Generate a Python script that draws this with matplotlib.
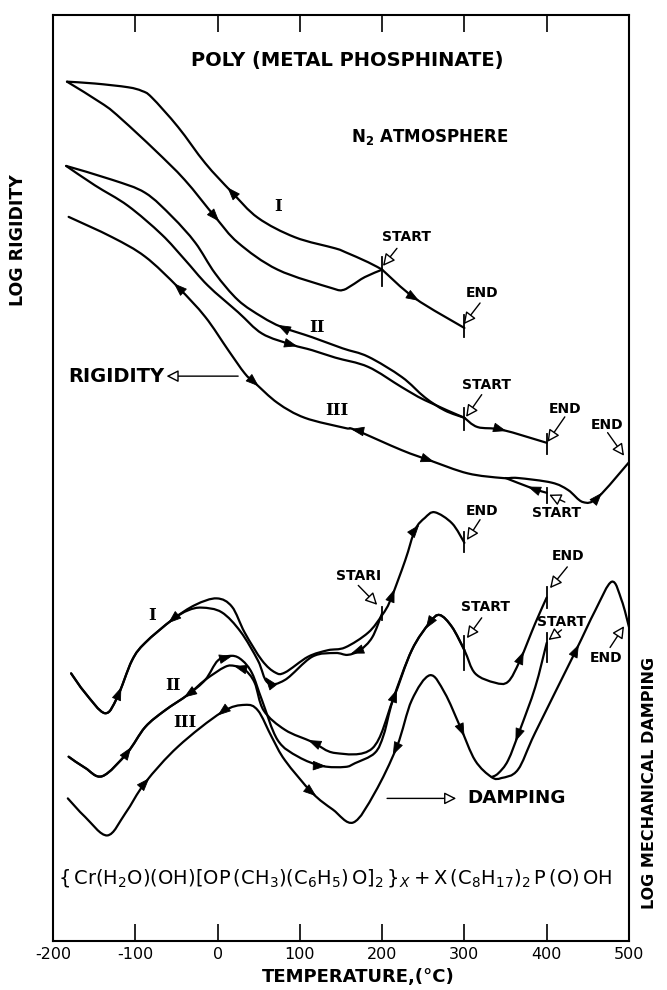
import numpy as np
import matplotlib
matplotlib.use("Agg")
import matplotlib.pyplot as plt
from matplotlib.path import Path
from matplotlib.patches import PathPatch

plt.rcParams['font.family'] = ['DejaVu Sans']
plt.rcParams['mathtext.fontset'] = 'dejavusans'
plt.rcParams['axes.unicode_minus'] = False

# ---- values: temperature (C) vs arbitrary log units ----
# rigidity, run I
rig1_cool_T = [-183, -149, -109, -92, -80, -48, -15, 17, 49, 94, 143, 155, 183, 200]
rig1_cool_Y = [92.8, 92.6, 92.2, 91.8, 91.1, 87.9, 84.0, 80.9, 78.1, 76.0, 74.8, 74.4, 73.3, 72.5]
rig1_heat_T = [-183, -138, -116, -76, -40, -3, 25, 73, 139, 152, 163, 179, 200]
rig1_heat_Y = [92.8, 90.3, 88.7, 85.4, 82.2, 78.2, 75.4, 72.5, 70.5, 70.3, 70.8, 71.7, 72.5]
rig1_end_T = [200, 240, 300]
rig1_end_Y = [72.5, 69.4, 66.2]
# rigidity, run II
rig2_cool_T = [-184, -128, -88, -55, -27, -3, 25, 54, 78, 115, 152, 183, 224, 252, 276, 300]
rig2_cool_Y = [83.7, 82.2, 80.8, 78.2, 75.4, 72.1, 69.2, 67.4, 66.3, 65.2, 64.0, 63.1, 60.9, 58.7, 57.3, 56.5]
rig2_heat_T = [-184, -149, -109, -68, -40, -12, 25, 54, 90, 115, 143, 183, 224, 252, 300]
rig2_heat_Y = [83.7, 81.6, 79.4, 76.3, 73.6, 70.8, 67.9, 65.6, 64.4, 63.8, 63.0, 62.0, 59.8, 58.4, 56.5]
rig2_end_T = [300, 316, 346, 400]
rig2_end_Y = [56.5, 55.5, 55.2, 53.8]
# rigidity, run III (heating and cooling coincide up to 400)
rig3_T = [-181, -128, -88, -48, -15, 13, 33, 45, 73, 106, 155, 167, 224, 258, 304, 346,
          365, 406, 426, 444, 462, 500]
rig3_Y = [78.2, 76.0, 73.9, 70.6, 67.4, 63.8, 61.3, 60.3, 58.1, 56.5, 55.4, 55.2, 53.0,
          51.9, 50.5, 50.0, 50.0, 49.5, 48.7, 47.4, 47.9, 51.7]
rig3_start_T = [350, 382, 400]
rig3_start_Y = [50.0, 48.9, 48.4]

# damping, run I
dmp1_heat_T = [-178, -161, -137, -122, -104, -88, -55, -27, -1, 17.5, 33, 54, 70, 82, 110,
               134, 155, 183, 200, 210, 228, 240, 252, 264, 285, 300]
dmp1_heat_Y = [28.9, 26.8, 24.6, 26.3, 30.3, 32.2, 34.7, 36.3, 37.0, 36.1, 33.3, 30.3, 29.0,
               29.0, 30.7, 31.4, 31.7, 33.3, 35.2, 36.8, 41.1, 44.4, 45.7, 46.3, 45.1, 43.0]
dmp1_cool_T = [-178, -161, -137, -122, -104, -88, -55, -36, -19, 5, 28, 49, 61, 82, 115,
               143, 158, 173, 188, 200]
dmp1_cool_Y = [28.9, 26.8, 24.6, 26.3, 30.3, 32.2, 34.7, 35.7, 36.0, 35.5, 33.4, 30.3, 27.9,
               28.2, 30.7, 31.1, 30.9, 31.4, 32.8, 35.4]
# damping, run II
dmp2_heat_T = [-181, -161, -140, -110, -88, -64, -36, -15, 0.5, 17.5, 30, 42, 54, 73, 98,
               127, 155, 167, 191, 202, 213, 236, 258, 270, 285, 300, 313, 337, 353, 367.5,
               386, 400]
dmp2_heat_Y = [19.9, 18.7, 17.8, 20.3, 23.1, 24.9, 26.6, 28.2, 30.3, 30.8, 30.3, 28.9, 26.0,
               21.7, 19.9, 18.9, 18.8, 19.2, 20.3, 22.3, 26.0, 31.4, 34.4, 35.2, 33.9, 31.4,
               28.9, 27.9, 28.0, 30.3, 34.3, 37.1]
dmp2_cool_T = [-181, -161, -140, -110, -88, -64, -36, -15, 9, 21, 33, 45, 56, 82, 115, 143,
               188, 213, 236, 258, 270, 285, 300]
dmp2_cool_Y = [19.9, 18.7, 17.8, 20.3, 23.1, 24.9, 26.6, 28.2, 29.6, 29.7, 29.3, 27.9, 24.9,
               22.8, 21.5, 20.3, 20.8, 26.0, 31.4, 34.4, 35.2, 33.9, 31.4]
# damping, run III
dmp3_T = [-182, -161, -134, -112, -88, -48, 5, 33, 49, 66, 82, 115, 140, 165, 191, 218, 236,
          258, 276, 295, 313, 333, 345, 365, 386, 434, 459, 479, 491, 500]
dmp3_Y = [15.4, 13.4, 11.4, 13.8, 17.1, 21.0, 24.7, 25.5, 24.9, 22.0, 19.5, 16.0, 14.2, 12.8,
          16.0, 21.0, 26.0, 28.7, 26.8, 23.1, 19.5, 17.7, 17.6, 18.5, 22.5, 31.1, 35.7, 38.8,
          36.8, 33.9]
dmp3_start_T = [333, 341, 353, 367.5, 386, 400]
dmp3_start_Y = [17.7, 18.1, 19.5, 22.8, 27.4, 32.2]

branches = {
    "rig1_cool": (rig1_cool_T, rig1_cool_Y), "rig1_heat": (rig1_heat_T, rig1_heat_Y),
    "rig1_end": (rig1_end_T, rig1_end_Y),
    "rig2_cool": (rig2_cool_T, rig2_cool_Y), "rig2_heat": (rig2_heat_T, rig2_heat_Y),
    "rig2_end": (rig2_end_T, rig2_end_Y),
    "rig3": (rig3_T, rig3_Y), "rig3_start": (rig3_start_T, rig3_start_Y),
    "dmp1_heat": (dmp1_heat_T, dmp1_heat_Y), "dmp1_cool": (dmp1_cool_T, dmp1_cool_Y),
    "dmp2_heat": (dmp2_heat_T, dmp2_heat_Y), "dmp2_cool": (dmp2_cool_T, dmp2_cool_Y),
    "dmp3": (dmp3_T, dmp3_Y), "dmp3_start": (dmp3_start_T, dmp3_start_Y),
}

# direction arrows on the curves: (branch, temperature, +1 heating / -1 cooling)
heads = [("rig1_cool", 17, -1), ("rig1_heat", -3, 1), ("rig1_end", 240, 1),
         ("rig2_cool", 78, -1), ("rig2_heat", 92, 1), ("rig2_end", 346, 1),
         ("rig3", -48, -1), ("rig3", 45, 1), ("rig3", 167, -1), ("rig3", 258, 1),
         ("rig3", 462, 1), ("rig3_start", 382, -1),
         ("dmp1_heat", -122, 1), ("dmp1_cool", -55, -1), ("dmp1_cool", 63, -1),
         ("dmp1_cool", 167, -1), ("dmp1_heat", 210, 1), ("dmp1_heat", 240, 1),
         ("dmp2_heat", -110, 1), ("dmp2_cool", -36, -1), ("dmp2_heat", 13, 1),
         ("dmp2_cool", 25, -1), ("dmp2_cool", 115, -1), ("dmp2_heat", 127, 1),
         ("dmp2_heat", 213, 1), ("dmp2_cool", 258, -1), ("dmp2_heat", 367, 1),
         ("dmp3", -88, 1), ("dmp3", 5, -1), ("dmp3", 115, 1), ("dmp3", 218, -1),
         ("dmp3", 295, 1), ("dmp3_start", 367, -1), ("dmp3", 434, 1)]

# START / END bars: (temperature, centre, half height)
bars = [(200, 72.3, 1.6), (300, 66.4, 1.2), (300, 56.4, 1.2), (400, 53.7, 1.1),
        (400, 48.1, 0.8), (200, 35.4, 0.7), (300, 43.1, 1.1), (300, 31.1, 1.8),
        (400, 37.1, 1.1), (400, 31.7, 1.6)]

# START / END callouts: (text, label x, label y, tail x, tail y, tip x, tip y)
callouts = [("START", 229, 76.0, 218, 74.8, 201, 72.9),
            ("END", 321, 70.0, 319, 68.9, 299, 66.6),
            ("START", 327, 60.0, 321, 59.0, 302, 56.6),
            ("END", 422, 57.5, 422, 56.6, 401, 53.9),
            ("END", 473, 55.7, 474, 54.9, 494, 52.4),
            ("START", 412, 46.2, 422, 47.4, 403, 48.2),
            ("STARI", 171, 39.4, 171, 38.4, 194, 36.3),
            ("END", 322, 46.4, 319, 45.5, 303, 43.3),
            ("START", 325, 36.1, 321, 34.9, 303, 32.7),
            ("END", 426, 41.6, 425, 40.4, 404, 38.1),
            ("START", 418, 34.4, 418, 33.6, 402, 32.5),
            ("END", 472, 30.6, 477, 31.7, 494, 34.0)]

numerals = [("I", 73, 79.3), ("II", 121, 66.3), ("III", 145, 57.3),
            ("I", -80, 35.2), ("II", -54, 27.6), ("III", -40, 23.6)]

xticks = [-200, -100, 0, 100, 200, 300, 400, 500]


def smooth(xs, ys):
    p = np.column_stack([xs, ys]).astype(float)
    verts, codes = [p[0]], [Path.MOVETO]
    for i in range(len(p) - 1):
        p0 = p[i - 1] if i > 0 else p[i]
        p3 = p[i + 2] if i + 2 < len(p) else p[i + 1]
        verts += [p[i] + (p[i + 1] - p0) / 6, p[i + 1] - (p3 - p[i]) / 6, p[i + 1]]
        codes += [Path.CURVE4] * 3
    return Path(verts, codes)


fig = plt.figure(figsize=(6.67, 9.9), dpi=100)
ax = fig.add_axes([53 / 667, 49 / 990, 576 / 667, 926 / 990])
ax.set_xlim(-200, 500)
ax.set_ylim(0, 100)

for name, (T, Y) in branches.items():
    ax.add_patch(PathPatch(smooth(T, Y), fc="none", ec="k", lw=1.6, capstyle="round",
                           joinstyle="round"))

for name, t0, d in heads:
    T, Y = branches[name]
    t1 = t0 + d * 5
    ax.annotate("", xy=(t1, np.interp(t1, T, Y)), xytext=(t0, np.interp(t0, T, Y)),
                arrowprops=dict(arrowstyle="-|>,head_length=0.6,head_width=0.22",
                                color="k", lw=0.6, shrinkA=0, shrinkB=0,
                                mutation_scale=14))

for t, yc, h in bars:
    ax.plot([t, t], [yc - h, yc + h], color="k", lw=1.3)

open_arrow = dict(arrowstyle="-|>,head_length=0.55,head_width=0.28", fc="white",
                  ec="k", lw=1.0, shrinkA=0, shrinkB=0, mutation_scale=13)
for txt, lx, ly, tx, ty, hx, hy in callouts:
    ax.text(lx, ly, txt, ha="center", va="center", fontsize=10, fontweight="bold")
    ax.annotate("", xy=(hx, hy), xytext=(tx, ty), arrowprops=open_arrow)

for txt, x, y in numerals:
    ax.text(x, y, txt, ha="center", va="center", fontsize=12, fontweight="bold",
            family="DejaVu Serif")

ax.text(158, 95.1, "POLY (METAL PHOSPHINATE)", ha="center", va="center", fontsize=14,
        fontweight="bold")
ax.text(258, 86.8, r"N$_\mathbf{2}$ ATMOSPHERE", ha="center", va="center", fontsize=12,
        fontweight="bold")
ax.text(-182, 61.0, "RIGIDITY", ha="left", va="center", fontsize=14, fontweight="bold")
ax.annotate("", xy=(-62, 61.0), xytext=(25, 61.0), arrowprops=open_arrow)
ax.annotate("", xy=(290, 15.4), xytext=(206, 15.4), arrowprops=open_arrow)
ax.text(304, 15.4, "DAMPING", ha="left", va="center", fontsize=13.2, fontweight="bold")
ax.text(143, 6.8,
        r"$\left\{\,\mathrm{Cr(H_2O)(OH)\left[OP\,(CH_3)(C_6H_5)\,O\right]_2}\,\right\}_X"
        r" + \mathrm{X\,(C_8H_{17})_2\,P\,(O)\,OH}$",
        ha="center", va="center", fontsize=14)

ax.set_xticks(xticks)
ax.set_yticks([])
ax.tick_params(axis="x", direction="in", length=12, width=1.2, top=True,
               labelsize=11.5, pad=4)
for s in ax.spines.values():
    s.set_linewidth(1.5)

fig.text(358 / 667, 1 - 977 / 990, "TEMPERATURE,(\u00b0C)", ha="center", va="center",
         fontsize=13, fontweight="bold")
fig.text(18 / 667, 1 - 240 / 990, "LOG RIGIDITY", rotation=90, ha="center", va="center",
         fontsize=12.5, fontweight="bold")
fig.text(650 / 667, 1 - 783 / 990, "LOG MECHANICAL DAMPING", rotation=90, ha="center",
         va="center", fontsize=11.5, fontweight="bold")

fig.savefig("out.png", dpi=100)
